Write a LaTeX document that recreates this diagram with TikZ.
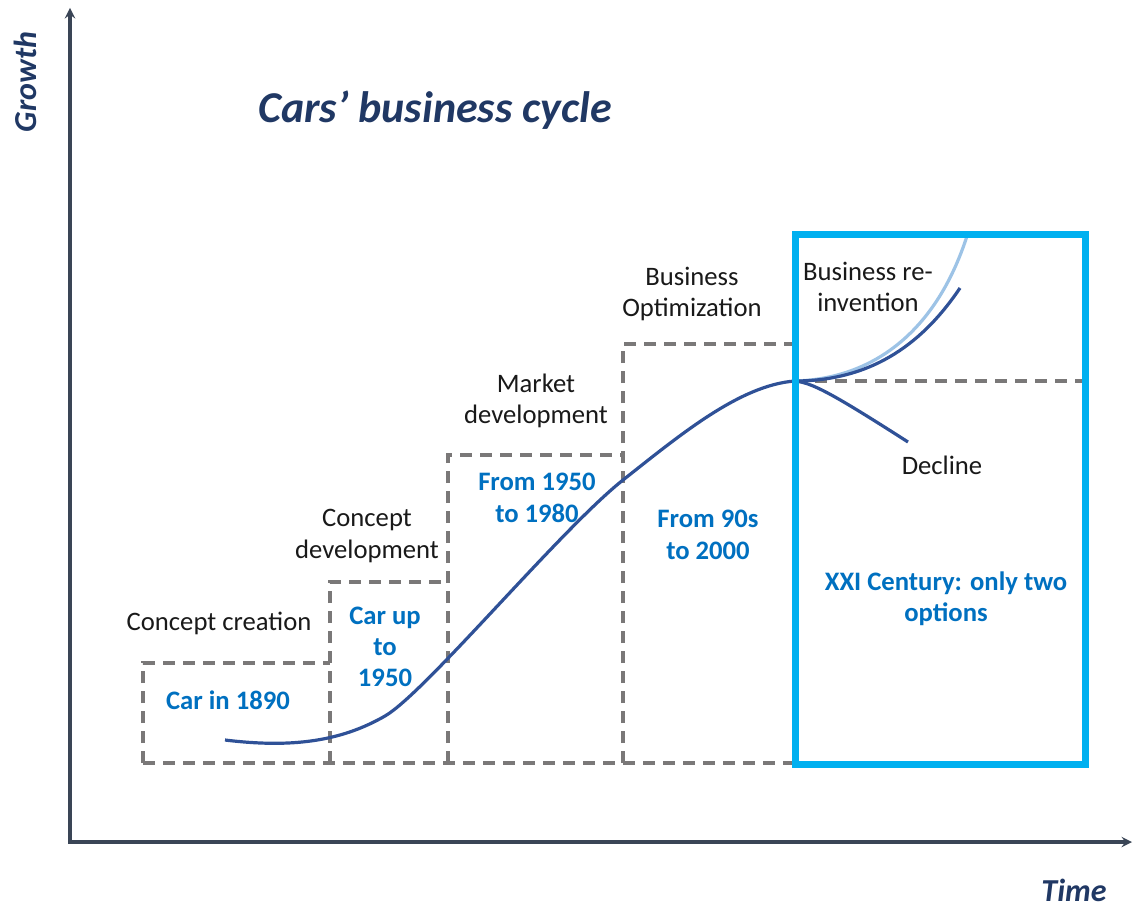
\documentclass[tikz,border=0pt]{standalone}
\usepackage{fontspec}
\setmainfont{Carlito}
\definecolor{navy}{HTML}{203864}
\definecolor{axisgray}{HTML}{3A4556}
\definecolor{boxgray}{HTML}{7A7878}
\definecolor{yearblue}{HTML}{0070C0}
\definecolor{frameblue}{HTML}{00B0F0}
\definecolor{curveblue}{HTML}{2F5197}
\definecolor{curvelight}{HTML}{9DC3E6}
\tikzset{
  >=stealth,
}
\tikzstyle{axes}=[line width=2.4pt,axisgray,<->]
\tikzstyle{stage}=[boxgray,line width=2.6pt,dash pattern=on 9pt off 6pt]
\tikzstyle{cycle}=[line width=2.4pt,curveblue]
\tikzstyle{phase}=[font=\fontsize{20}{23.5}\selectfont,align=center,text=black!90]
\tikzstyle{era}=[font=\bfseries\fontsize{20}{23.5}\selectfont,align=center,text=yearblue]
\tikzstyle{heading}=[font=\bfseries\itshape,text=navy]

\begin{document}
\begin{tikzpicture}[x=0.75pt,y=-0.75pt]
    \useasboundingbox (0,0) rectangle (1134,909);
    \draw[axes] (70,8)|-(1132,842);
    \node[heading,font=\bfseries\itshape\fontsize{24}{28}\selectfont,rotate=90] (growth) at (25,82) {Growth};
    \node[heading,font=\bfseries\itshape\fontsize{24}{28}\selectfont] (time) at (1074,890) {Time};
    \node[heading,font=\bfseries\itshape\fontsize{33}{38}\selectfont] (title) at (435,110) {Cars’ business cycle};

    % stages, each box shares its right side with the next one
    \draw[stage] (143,763)--(795,763);
    \draw[stage] (143,763)|-(330,663);
    \draw[stage] (330,763)|-(448,582);
    \draw[stage] (448,763)|-(623,455);
    \draw[stage] (623,763)|-(795,344);
    \draw[stage] (795,381)--(1085,381);

    % the cycle and its two ways out
    \coordinate (peak) at (795,381);
    \draw[cycle] (225,740) .. controls (290,748) and (340,742) .. (385,716)
        .. controls (425,693) and (560,530) .. (623,480)
        .. controls (680,435) and (740,385) .. (peak);
    \draw[line width=2.4pt,curvelight] (peak) .. controls (870,379) and (935,335) .. (967,236);
    \draw[cycle] (peak) .. controls (875,381) and (925,340) .. (960,288);
    \draw[cycle] (peak) .. controls (812,383) and (830,392) .. (908,442);
    \draw[frameblue,line width=5.25pt] (795,235) rectangle (1085,764);

    \node[phase] (crea) at (219,623) {Concept creation};
    \node[phase] (dev) at (367,536) {Concept\\development};
    \node[phase] (mkt) at (536,401) {Market\\development};
    \node[phase] (opt) at (692,294) {Business\\Optimization};
    \node[phase] (reinv) at (868,287) {Business re-\\invention};
    \node[phase] (decl) at (942,465) {Decline};

    \node[era] (y1890) at (228,700) {Car in 1890};
    \node[era] (y1950) at (385,647) {Car up\\to\\1950};
    \node[era] (y1980) at (537,498) {From 1950\\to 1980};
    \node[era] (y2000) at (708,535) {From 90s\\to 2000};
    \node[era] (xxi) at (946,599) {XXI Century: only two\\options};
\end{tikzpicture}
\end{document}
